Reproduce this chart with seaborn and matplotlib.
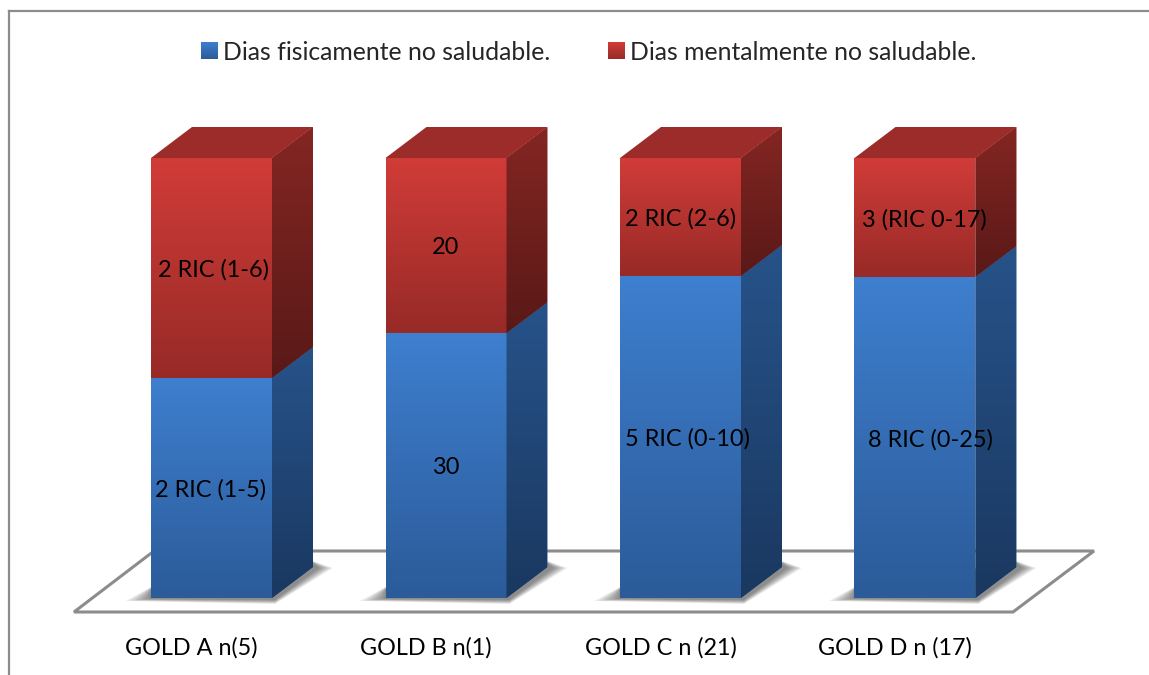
import numpy as np
import pandas as pd
import matplotlib
matplotlib.use('Agg')
import matplotlib.pyplot as plt
from matplotlib.colors import LinearSegmentedColormap
from matplotlib.patches import Patch, Polygon
from matplotlib.transforms import offset_copy
import seaborn as sns

# Datos (barras apiladas al 100 %)
grupos = ['GOLD A n(5)', 'GOLD B n(1)', 'GOLD C n (21)', 'GOLD D n (17)']
fisico = [50.0, 60.2, 73.2, 73.0]
mental = [50.0, 39.8, 26.8, 27.0]
etiquetas_fisico = ['2 RIC (1-5)', '30', '5 RIC (0-10)', '8 RIC (0-25)']
etiquetas_mental = ['2 RIC (1-6)', '20', '2 RIC (2-6)', '3 (RIC 0-17)']
serie_fisico = 'Dias fisicamente no saludable.'
serie_mental = 'Dias mentalmente no saludable.'

# Ajustes de las etiquetas, en pixeles
ajuste_fisico = [-1, 0, 7, 15]
ajuste_mental = [2, 0, 0, 9]

W, H = 1149, 675
PX_X, PX_Y = 234.5, 4.4  # pixeles por categoria / por punto porcentual
BASE_X, BASE_Y = 211.5, 598
DX, DY = 41 / PX_X, 31 / PX_Y

AZUL = ('#3E7FCF', '#2B5B99')
AZUL_LADO = ('#27538A', '#1A3860')
ROJO = ('#D13C38', '#972A27')
ROJO_LADO = ('#842623', '#591917')
ROJO_TAPA = '#9B2C29'
GRIS = '#8C8C8C'

sns.set_theme(style='white')
plt.rcParams['font.family'] = ['Lato', 'DejaVu Sans']

fig = plt.figure(figsize=(W / 100, H / 100), dpi=100)
ax = fig.add_axes([8.5 / W, 0, (W - 8.5) / W, (H - 10.5) / H])


def px(x, y):
    return (x - BASE_X) / PX_X, (BASE_Y - y) / PX_Y


def degradado(extent, colores, recorte=None, zorder=3):
    cmap = LinearSegmentedColormap.from_list('g', colores)
    im = ax.imshow(np.linspace(0, 1, 128)[:, None], cmap=cmap, extent=extent,
                   origin='upper', aspect='auto', zorder=zorder,
                   interpolation='bilinear')
    if recorte is not None:
        im.set_clip_path(recorte)
    return im


df = pd.DataFrame({'grupo': grupos, 'fisico': fisico, 'mental': mental})

# Plano del suelo
suelo = [px(74, 612), px(1013, 612), px(1094, 551), px(154, 551)]
ax.add_patch(Polygon(suelo, closed=True, fc='white', ec=GRIS, lw=2.2, zorder=1,
                     joinstyle='miter'))

sns.barplot(data=df, x='grupo', y='fisico', color=AZUL[0], saturation=1,
            width=121 / PX_X, ax=ax, zorder=2, linewidth=0)
sns.barplot(data=df, x='grupo', y='mental', bottom=df['fisico'], color=ROJO[0],
            saturation=1, width=121 / PX_X, ax=ax, zorder=2, linewidth=0)
barras_azul = ax.containers[0]
barras_rojo = ax.containers[1]

for azul, rojo, t_f, t_m, a_f, a_m in zip(barras_azul, barras_rojo,
                                          etiquetas_fisico, etiquetas_mental,
                                          ajuste_fisico, ajuste_mental):
    x0, x1 = azul.get_x(), azul.get_x() + azul.get_width()
    medio = azul.get_height()
    arriba = medio + rojo.get_height()

    # Sombra difusa sobre el suelo (capas cada vez mas anchas)
    for t in np.linspace(0, 1, 10):
        sombra = [(x0 - (2 + 24 * t) / PX_X, -(1 + 2 * t) / PX_Y),
                  (x1 + 3 / PX_X, -(2 + 4 * t) / PX_Y),
                  (x1 + DX + (6 + 14 * t) / PX_X, DY - 1 / PX_Y),
                  (x1 + DX, DY + (4 + 2 * t) / PX_Y),
                  (x0, (9 + 2 * t) / PX_Y)]
        ax.add_patch(Polygon(sombra, closed=True, fc='black', ec='none',
                             alpha=0.055, zorder=1.5))

    # Caras frontales con degradado
    degradado((x0, x1, 0, medio), AZUL, azul)
    degradado((x0, x1, medio, arriba), ROJO, rojo)

    # Caras laterales y tapa
    for lo, hi, cols in [(0, medio, AZUL_LADO), (medio, arriba, ROJO_LADO)]:
        lado = Polygon([(x1, lo), (x1 + DX, lo + DY), (x1 + DX, hi + DY), (x1, hi)],
                       closed=True, fc=cols[0], ec='none', zorder=2.5)
        ax.add_patch(lado)
        degradado((x1, x1 + DX, lo, hi + DY), cols, lado)
    ax.add_patch(Polygon([(x0, arriba), (x1, arriba), (x1 + DX, arriba + DY),
                          (x0 + DX, arriba + DY)],
                         closed=True, fc=ROJO_TAPA, ec='none', zorder=3))

    # Etiquetas de datos
    centro = (x0 + x1) / 2
    ax.text(centro + a_f / PX_X, medio / 2 - 2 / PX_Y, t_f, ha='center', va='center',
            fontsize=16.9, color='black', zorder=6)
    ax.text(centro + a_m / PX_X, medio + (arriba - medio) / 2 - 2 / PX_Y, t_m, ha='center',
            va='center', fontsize=16.9, color='black', zorder=6)

# Limites para que 0-100 % caiga en los pixeles del original
ax.set_xlim(px(8.5, 0)[0], px(W, 0)[0])
ax.set_ylim(px(0, H)[1], px(0, 10.5)[1])

ax.set_xlabel('')
ax.set_ylabel('')
ax.set_yticks([])
ax.tick_params(axis='x', length=0, pad=-27, labelsize=16.8, colors='black')
for lab in ax.get_xticklabels():
    lab.set_transform(offset_copy(lab.get_transform(), fig=fig, x=-20, y=0, units='dots'))

for lado in ['right', 'bottom']:
    ax.spines[lado].set_visible(False)
for lado in ['left', 'top']:
    ax.spines[lado].set_color(GRIS)
    ax.spines[lado].set_linewidth(1.6)

# Leyenda
handles = [Patch(fc=AZUL[0], ec='none', label=serie_fisico),
           Patch(fc=ROJO[0], ec='none', label=serie_mental)]
ley = ax.legend(handles=handles, ncol=2, frameon=False, fontsize=17.8,
                loc='center', bbox_to_anchor=(589 / W, 1 - 52 / H),
                bbox_transform=fig.transFigure, handlelength=0.65, handleheight=0.65,
                handletextpad=0.24, columnspacing=2.35, borderpad=0, borderaxespad=0)

# Degradado en los cuadros de la leyenda
fig.canvas.draw()
for h, cols in zip(ley.get_patches(), [AZUL, ROJO]):
    caja = h.get_window_extent().transformed(ax.transData.inverted())
    degradado((caja.x0, caja.x1, caja.y0, caja.y1), cols, zorder=6)

fig.savefig('out.png', dpi=100)
